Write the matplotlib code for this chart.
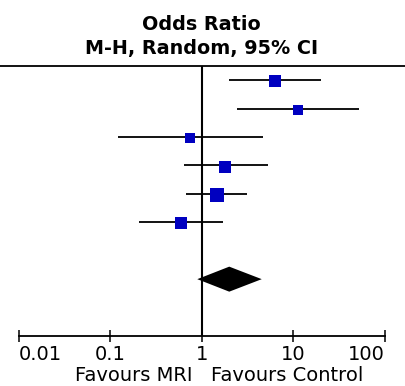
import numpy as np
import matplotlib
matplotlib.use('Agg')
import matplotlib.pyplot as plt
from matplotlib.ticker import FixedLocator, NullLocator

# Study odds ratios with 95% CI
odds = [6.37, 11.3, 0.75, 1.82, 1.46, 0.59]
ci_low = [1.99, 2.45, 0.122, 0.636, 0.68, 0.206]
ci_high = [20.1, 52.4, 4.71, 5.26, 3.13, 1.70]
weights = [17.8, 14.0, 10.7, 17.8, 21.9, 17.8]  # percent

# Pooled estimate (diamond)
pooled = 2.00
pooled_low = 0.895
pooled_high = 4.53

tick_values = [0.01, 0.1, 1, 10, 100]
tick_labels = ["0.01", "0.1", "1", "10", "100"]

W, H = 406, 386
fig = plt.figure(figsize=(W / 100, H / 100), dpi=100)
ax = fig.add_axes([0, (H - 336) / H, 1, (336 - 66) / H])

# x: 1 sits at 201.7 px, 91.5 px per decade
dec = 91.5
ax.set_xscale('log')
ax.set_xlim(10 ** (-201.7 / dec), 10 ** ((W - 201.7) / dec))
ax.set_ylim(9.0, -0.5)

blue = '#0000C0'
for i in range(len(odds)):
    ax.plot([ci_low[i], ci_high[i]], [i, i], color='black', lw=1.3, solid_capstyle='butt', zorder=2)
    # box side (px) ~ 2.13 * sqrt(weight)
    side_px = 2.13 * np.sqrt(weights[i])
    ax.plot(odds[i], i + 0.04, marker='s', color=blue, ms=side_px * 0.72 * 1.35,
            mec=blue, mew=0, zorder=3)

yd = len(odds) + 1
ax.fill([pooled_low, pooled, pooled_high, pooled], [yd, yd - 0.44, yd, yd + 0.44],
        color='black', lw=0, zorder=3)

ax.axvline(1, color='black', lw=1.5, zorder=1)

for s in ['left', 'right']:
    ax.spines[s].set_visible(False)
ax.spines['top'].set_linewidth(1.3)
ax.spines['bottom'].set_linewidth(1.3)
ax.spines['bottom'].set_bounds(tick_values[0], tick_values[-1])

ax.xaxis.set_major_locator(FixedLocator(tick_values))
ax.xaxis.set_minor_locator(NullLocator())
ax.set_xticklabels(tick_labels)
ax.yaxis.set_major_locator(NullLocator())
ax.tick_params(axis='x', direction='inout', length=8.6, width=1.1, pad=2.5, labelsize=14)
labels = ax.get_xticklabels()
labels[0].set_ha('left')
labels[-1].set_ha('right')

# Titles
fig.text(201.7 / W, 1 - 30 / H, "Odds Ratio", ha='center', va='baseline',
         fontsize=13.8, fontweight='bold')
fig.text(201.7 / W, 1 - 54 / H, "M-H, Random, 95% CI", ha='center', va='baseline',
         fontsize=13.8, fontweight='bold')

# Favours labels
fig.text(193 / W, 1 - 381 / H, "Favours MRI", ha='right', va='baseline', fontsize=14)
fig.text(211 / W, 1 - 381 / H, "Favours Control", ha='left', va='baseline', fontsize=14)

fig.savefig('out.png', dpi=100)
